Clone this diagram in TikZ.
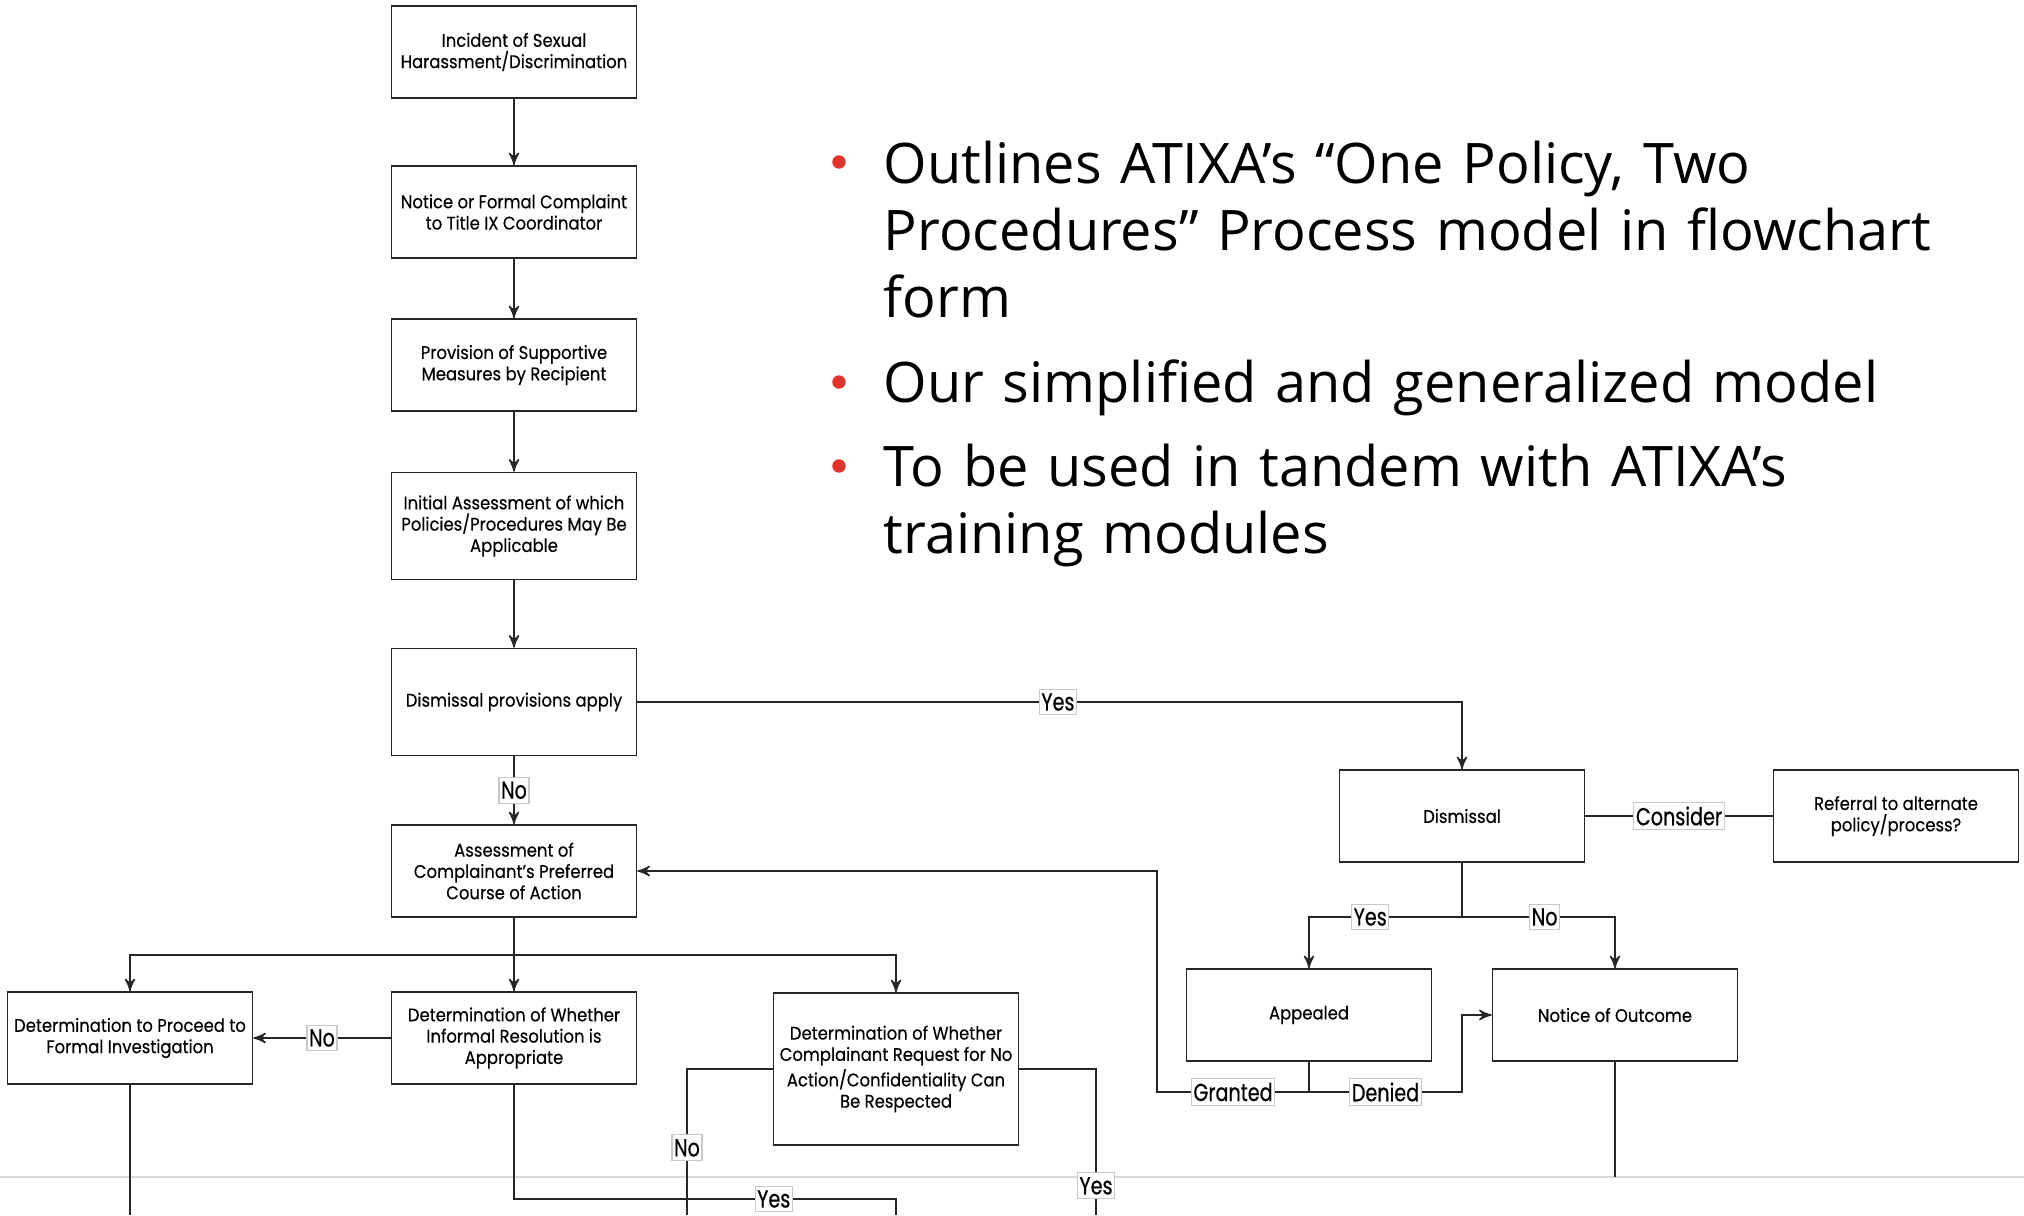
\documentclass[tikz,border=0pt]{standalone}
\usepackage{fontspec}
\setmainfont{Open Sans}
\newfontfamily\boxfamily{Poppins}[FakeStretch=0.9, FakeBold=0.3]
\newfontfamily\labelfamily{Poppins}[FakeStretch=0.78, FakeBold=0.6]
\usepackage{tikz}
\usetikzlibrary{arrows}
\usetikzlibrary{positioning}

\definecolor{bulletred}{RGB}{224,52,44}
\definecolor{slidegray}{RGB}{217,217,217}
\definecolor{tagborder}{RGB}{200,200,200}

\begin{document}
\begin{tikzpicture}[
    box/.style={draw=black!85, line width=0.45pt, minimum width=2.45cm, minimum height=0.92cm,
      align=center, inner sep=1pt, font=\boxfamily\fontsize{5.2}{6.06}\selectfont},
    tallbox/.style={box, minimum height=1.07cm},
    tag/.style={fill=white, draw=tagborder, line width=0.3pt, inner xsep=0.6pt, inner ysep=1.2pt,
      font=\labelfamily\fontsize{7}{8}\selectfont},
    line/.style={draw=black!85, line width=0.4pt},
    arrow/.style={line, >=stealth'},
    post/.style={arrow, ->},
    dot/.style={circle, fill=bulletred, minimum size=1.34mm, inner sep=0pt},
    item/.style={anchor=base west, text width=11cm, align=left, inner sep=0pt,
      font=\fontsize{15.9}{19.2}\selectfont}
  ]
  \useasboundingbox (0,0) rectangle (20.24,-12.15);
  \draw[slidegray, line width=0.5pt] (0,-11.77) -- (20.24,-11.77);

  % bullet points
  \node[dot] (d1) at (8.39,-1.62) {};
  \node[item] (t1) at (8.83,-1.83) {Outlines ATIXA’s “One Policy, Two\\Procedures” Process model in flowchart\\form};
  \node[dot] (d2) at (8.39,-3.82) {};
  \node[item] (t2) at (8.83,-4.02) {Our simplified and generalized model};
  \node[dot] (d3) at (8.39,-4.66) {};
  \node[item] (t3) at (8.83,-4.86) {To be used in tandem with ATIXA’s\\training modules};

  % main column
  \node[box] (incident) at (5.14,-0.52) {Incident of Sexual\\Harassment/Discrimination};
  \node[box] (notice) at (5.14,-2.12) {Notice or Formal Complaint\\to Title IX Coordinator};
  \node[box] (support) at (5.14,-3.65) {Provision of Supportive\\Measures by Recipient};
  \node[tallbox] (initial) at (5.14,-5.26) {Initial Assessment of which\\Policies/Procedures May Be\\Applicable};
  \node[tallbox] (applies) at (5.14,-7.02) {Dismissal provisions apply};
  \node[box] (assess) at (5.14,-8.71) {Assessment of\\Complainant’s Preferred\\Course of Action};

  \node[box] (proceed) at (1.30,-10.38) {Determination to Proceed to\\Formal Investigation};
  \node[box] (informal) at (5.14,-10.38) {Determination of Whether\\Informal Resolution is\\Appropriate};
  \node[box, minimum height=1.52cm] (respect) at (8.96,-10.69) {Determination of Whether\\Complainant Request for No\\Action/Confidentiality Can\\Be Respected};

  % dismissal branch
  \node[box] (dismissal) at (14.62,-8.16) {Dismissal};
  \node[box] (referral) at (18.96,-8.16) {Referral to alternate\\policy/process?};
  \node[box] (appealed) at (13.09,-10.15) {Appealed};
  \node[box] (outcome) at (16.15,-10.15) {Notice of Outcome};

  \coordinate (split) at (5.14,-9.55);
  \coordinate (yesturn) at (8.96,-11.99);
  \coordinate (yesend) at (8.96,-12.15);
  \coordinate (noend) at (6.87,-12.15);
  \coordinate (rightend) at (10.96,-12.15);
  \coordinate (procend) at (1.30,-12.15);
  \coordinate (dsplit) at (14.62,-9.17);
  \coordinate (asplit) at (13.09,-10.92);
  \coordinate (gcorner) at (11.57,-10.92);
  \coordinate (dcorner) at (14.62,-10.92);
  \coordinate (outend) at (16.15,-11.77);

  \draw[post] (incident) -- (notice);
  \draw[post] (notice) -- (support);
  \draw[post] (support) -- (initial);
  \draw[post] (initial) -- (applies);
  \draw[post] (applies) -- node[tag] {No} (assess);
  \draw[post] (applies) -| node[tag, pos=0.255] {Yes} (dismissal);

  \draw[line] (assess) -- (split);
  \draw[post] (split) -| (proceed);
  \draw[post] (split) -- (informal);
  \draw[post] (split) -| (respect);

  \draw[post] (informal) -- node[tag] {No} (proceed);
  \draw[line] (informal) |- node[tag, pos=0.84] {Yes} (yesturn) -- (yesend);
  \draw[line] (respect.west) -| node[tag, pos=0.77] {No} (noend);
  \draw[line] (respect.east) -| node[tag, pos=0.9] {Yes} (rightend);
  \draw[line] (proceed) -- (procend);

  \draw[line] (dismissal) -- node[tag] {Consider} (referral);
  \draw[line] (dismissal) -- (dsplit);
  \draw[post] (dsplit) -| node[tag, pos=0.3] {Yes} (appealed);
  \draw[post] (dsplit) -| node[tag, pos=0.27] {No} (outcome);

  \draw[line] (appealed) -- (asplit);
  \draw[post] (asplit) -- node[tag] {Granted} (gcorner) |- (assess);
  \draw[post] (asplit) -- node[tag] {Denied} (dcorner) |- (outcome);
  \draw[line] (outcome) -- (outend);
\end{tikzpicture}
\end{document}
